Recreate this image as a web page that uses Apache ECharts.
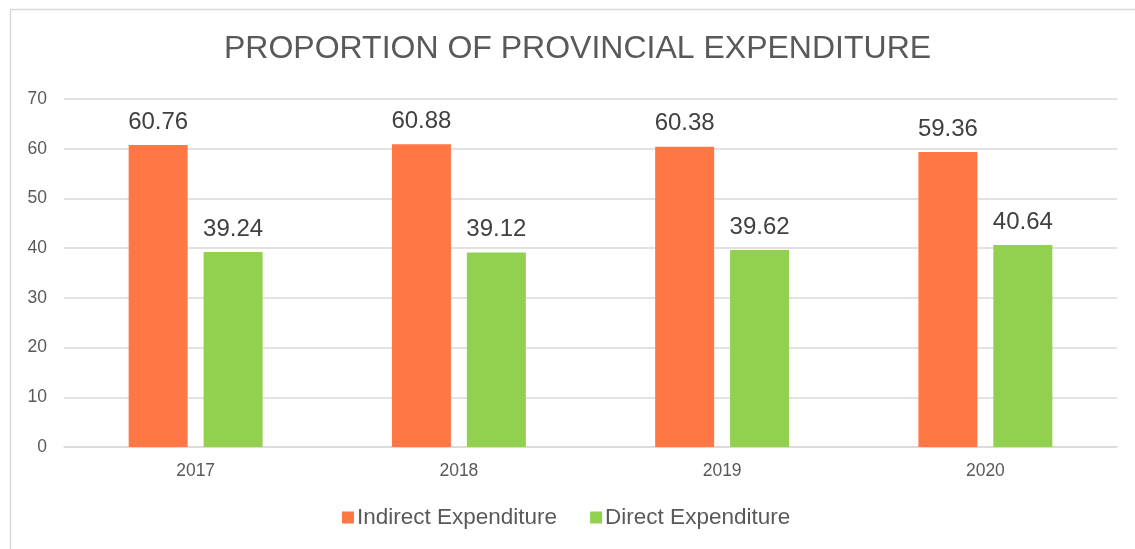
<!DOCTYPE html>
<html>
<head>
<meta charset="utf-8">
<script src="https://cdn.jsdelivr.net/npm/echarts@6/dist/echarts.min.js"></script>
<style>
  html, body { margin: 0; padding: 0; background: #fff; }
  #chart { width: 1135px; height: 549px; }
</style>
</head>
<body>
<div id="chart"></div>
<script>
  var years = ['2017', '2018', '2019', '2020'];
  var indirect = [60.76, 60.88, 60.38, 59.36];
  var direct = [39.24, 39.12, 39.62, 40.64];

  var chart = echarts.init(document.getElementById('chart'));
  var font = 'Liberation Sans, Arial, sans-serif';

  var option = {
    animation: false,
    textStyle: { fontFamily: font },
    title: {
      text: 'PROPORTION OF PROVINCIAL EXPENDITURE',
      left: 219,
      top: 28,
      textStyle: { fontSize: 32, fontWeight: 'normal', color: '#595959', fontFamily: font }
    },
    // light frame of the chart area
    graphic: [{
      type: 'rect',
      shape: { x: 10.5, y: 9.5, width: 1140, height: 560 },
      style: { fill: 'none', stroke: '#D9D9D9', lineWidth: 1.5 },
      silent: true
    }],
    legend: {
      bottom: 15,
      left: 337,
      itemWidth: 12,
      itemHeight: 12,
      itemGap: 33,
      icon: 'rect',
      textStyle: { fontSize: 22.5, color: '#595959', fontFamily: font, padding: [0, 0, 0, -2] },
      data: ['Indirect Expenditure', 'Direct Expenditure']
    },
    grid: { left: 64, right: 18, top: 99, bottom: 102 },
    xAxis: {
      type: 'category',
      data: years,
      axisLine: { lineStyle: { color: '#D9D9D9', width: 1.5 } },
      axisTick: { show: false },
      axisLabel: { fontSize: 17.5, color: '#595959', margin: 15 }
    },
    yAxis: {
      type: 'value',
      min: 0,
      max: 70,
      interval: 10,
      axisLine: { show: false },
      axisTick: { show: false },
      splitLine: { lineStyle: { color: '#D9D9D9', width: 1.5 } },
      axisLabel: { fontSize: 17.5, color: '#595959', margin: 17 }
    },
    series: [{
      name: 'Indirect Expenditure',
      type: 'bar',
      data: indirect,
      barWidth: 59,
      barGap: '27%',
      itemStyle: { color: '#FF7744' },
      label: { show: true, position: 'top', distance: 11, fontSize: 24, color: '#404040' }
    }, {
      name: 'Direct Expenditure',
      type: 'bar',
      data: direct,
      barWidth: 59,
      itemStyle: { color: '#92D050' },
      label: { show: true, position: 'top', distance: 11, fontSize: 24, color: '#404040' }
    }]
  };

  chart.setOption(option);
</script>
</body>
</html>
